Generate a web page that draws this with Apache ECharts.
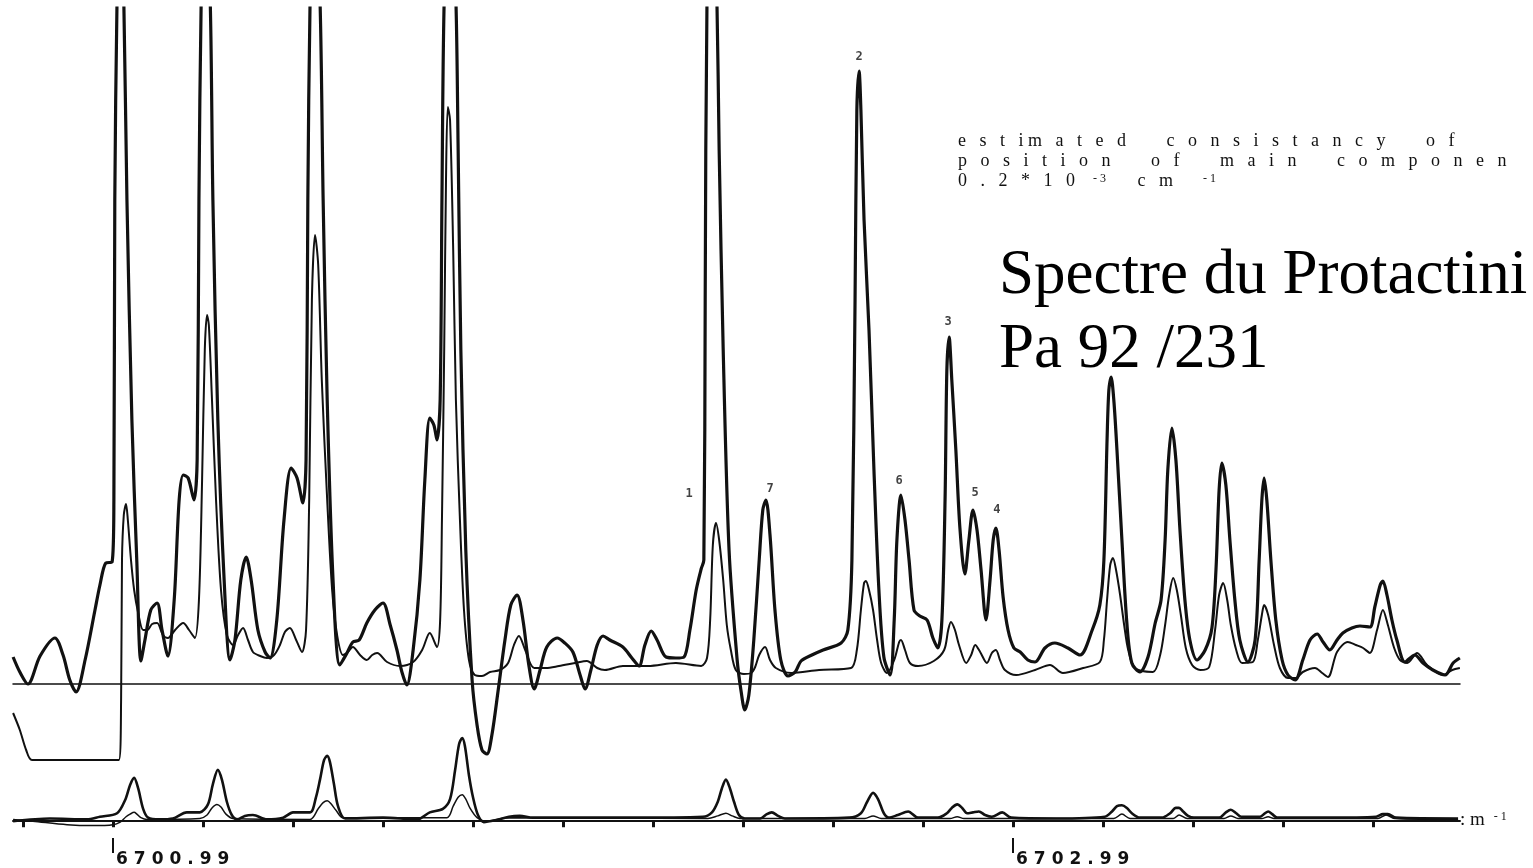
<!DOCTYPE html>
<html>
<head>
<meta charset="utf-8">
<title>Spectre du Protactinium</title>
<script src="https://cdn.jsdelivr.net/npm/echarts@6/dist/echarts.min.js"></script>
<style>
  html, body { margin: 0; padding: 0; background: #fff; }
  #chart { width: 1533px; height: 868px; }
</style>
</head>
<body>
<div id="chart"></div>
<script>
// x = offset in cm-1 from 6700.99, y = trace height above its own baseline
var baseWavenumber = 6700.99;
var xMin = -0.2222, xMax = 2.9933;

var thickTop = [[-0.222,27],[-0.207,12],[-0.189,0],[-0.162,28],[-0.129,46],[-0.111,29],[-0.096,4],[-0.082,-8],[-0.062,24],[-0.040,74],[-0.029,99],[-0.016,121],[-0.002,122],[0.002,184],[0.004,484],[0.009,684],[0.016,804],[0.024,684],[0.031,484],[0.042,264],[0.053,122],[0.062,23],[0.071,44],[0.084,74],[0.098,81],[0.109,54],[0.122,28],[0.136,84],[0.147,184],[0.156,209],[0.167,206],[0.180,184],[0.187,224],[0.191,484],[0.196,684],[0.204,804],[0.216,684],[0.222,484],[0.233,264],[0.247,104],[0.260,24],[0.271,44],[0.284,104],[0.296,127],[0.307,104],[0.322,54],[0.338,32],[0.349,26],[0.364,64],[0.380,164],[0.396,216],[0.409,206],[0.422,181],[0.429,224],[0.433,484],[0.438,684],[0.447,804],[0.460,684],[0.467,484],[0.476,284],[0.489,104],[0.504,19],[0.520,31],[0.533,42],[0.547,44],[0.564,61],[0.582,74],[0.600,81],[0.616,59],[0.631,34],[0.642,12],[0.653,-1],[0.667,34],[0.682,104],[0.693,204],[0.704,266],[0.713,259],[0.720,244],[0.727,284],[0.731,484],[0.736,684],[0.749,824],[0.762,684],[0.767,534],[0.773,334],[0.784,134],[0.798,4],[0.809,-41],[0.820,-66],[0.831,-70],[0.842,-51],[0.856,-6],[0.871,44],[0.884,79],[0.898,89],[0.911,64],[0.924,19],[0.936,-5],[0.949,14],[0.964,37],[0.987,46],[1.004,41],[1.022,32],[1.038,9],[1.049,-5],[1.062,14],[1.076,39],[1.089,48],[1.104,44],[1.133,37],[1.153,26],[1.169,18],[1.182,39],[1.196,53],[1.209,44],[1.229,27],[1.251,26],[1.269,27],[1.282,54],[1.296,94],[1.307,115],[1.313,124],[1.316,384],[1.320,684],[1.331,834],[1.342,684],[1.347,534],[1.356,334],[1.369,134],[1.387,24],[1.396,-8],[1.404,-26],[1.413,-11],[1.424,44],[1.436,124],[1.444,174],[1.451,184],[1.460,149],[1.471,74],[1.484,24],[1.500,8],[1.516,12],[1.529,23],[1.553,29],[1.578,34],[1.618,41],[1.633,54],[1.642,124],[1.649,384],[1.653,574],[1.658,613],[1.662,574],[1.669,464],[1.680,354],[1.691,214],[1.702,94],[1.713,27],[1.727,9],[1.736,64],[1.742,144],[1.751,189],[1.760,164],[1.769,124],[1.780,74],[1.793,68],[1.809,64],[1.822,46],[1.833,36],[1.842,64],[1.849,184],[1.853,314],[1.858,347],[1.864,304],[1.873,234],[1.882,156],[1.893,110],[1.902,144],[1.911,174],[1.920,154],[1.929,114],[1.940,64],[1.949,104],[1.956,144],[1.962,156],[1.969,134],[1.978,87],[1.989,54],[2.002,36],[2.016,32],[2.033,24],[2.049,22],[2.071,36],[2.093,41],[2.122,36],[2.149,29],[2.176,54],[2.193,79],[2.202,124],[2.209,244],[2.213,294],[2.218,307],[2.224,284],[2.231,234],[2.242,144],[2.253,61],[2.264,21],[2.282,12],[2.300,27],[2.316,61],[2.329,84],[2.338,144],[2.344,214],[2.353,256],[2.362,224],[2.371,154],[2.382,84],[2.393,44],[2.409,24],[2.427,34],[2.442,56],[2.451,114],[2.458,194],[2.464,221],[2.473,199],[2.482,144],[2.493,84],[2.504,44],[2.522,22],[2.538,44],[2.547,124],[2.553,184],[2.558,206],[2.564,184],[2.573,124],[2.584,64],[2.598,24],[2.611,9],[2.627,4],[2.644,24],[2.660,44],[2.676,50],[2.689,42],[2.704,34],[2.720,44],[2.733,51],[2.753,56],[2.771,58],[2.793,57],[2.804,77],[2.816,99],[2.822,103],[2.831,89],[2.842,64],[2.853,44],[2.871,22],[2.893,29],[2.911,21],[2.933,14],[2.960,9],[2.978,21],[2.993,26]];

var thinTop = [[-0.222,-29],[-0.207,-46],[-0.193,-66],[-0.180,-76],[0.013,-76],[0.018,-16],[0.020,124],[0.024,169],[0.029,180],[0.033,164],[0.040,124],[0.047,94],[0.056,71],[0.067,54],[0.076,54],[0.087,60],[0.098,61],[0.111,49],[0.122,46],[0.138,54],[0.156,61],[0.169,54],[0.182,46],[0.191,84],[0.198,204],[0.204,334],[0.209,369],[0.213,359],[0.220,284],[0.229,184],[0.240,94],[0.253,49],[0.267,39],[0.278,49],[0.289,56],[0.300,44],[0.311,32],[0.327,28],[0.342,26],[0.358,29],[0.371,39],[0.382,52],[0.393,56],[0.407,44],[0.420,32],[0.429,54],[0.436,184],[0.442,384],[0.449,449],[0.456,419],[0.464,304],[0.476,184],[0.487,94],[0.498,49],[0.511,29],[0.522,32],[0.533,37],[0.549,29],[0.564,24],[0.576,29],[0.587,31],[0.609,22],[0.638,18],[0.667,22],[0.687,34],[0.704,51],[0.720,37],[0.727,64],[0.731,164],[0.736,334],[0.740,504],[0.744,577],[0.749,564],[0.756,434],[0.762,284],[0.771,164],[0.780,74],[0.791,24],[0.804,9],[0.820,8],[0.838,12],[0.860,14],[0.878,21],[0.891,39],[0.902,48],[0.916,34],[0.936,16],[0.962,16],[0.991,18],[1.027,21],[1.053,23],[1.076,16],[1.093,14],[1.133,18],[1.189,18],[1.251,21],[1.307,18],[1.320,26],[1.327,64],[1.333,139],[1.340,161],[1.347,144],[1.356,104],[1.364,59],[1.373,34],[1.384,14],[1.402,10],[1.418,11],[1.427,17],[1.436,29],[1.449,37],[1.460,24],[1.473,16],[1.507,11],[1.569,14],[1.640,16],[1.653,34],[1.662,74],[1.669,101],[1.673,103],[1.680,94],[1.689,74],[1.698,44],[1.707,21],[1.720,11],[1.736,24],[1.747,42],[1.751,44],[1.760,34],[1.771,21],[1.789,18],[1.824,23],[1.847,34],[1.856,54],[1.862,62],[1.871,54],[1.880,39],[1.896,21],[1.907,29],[1.916,39],[1.927,32],[1.942,21],[1.953,31],[1.962,34],[1.971,24],[1.982,14],[2.007,9],[2.049,14],[2.082,19],[2.111,11],[2.156,16],[2.193,22],[2.202,44],[2.209,84],[2.216,119],[2.222,126],[2.229,114],[2.238,89],[2.247,59],[2.256,34],[2.271,16],[2.311,12],[2.327,29],[2.338,59],[2.347,89],[2.356,106],[2.364,94],[2.373,69],[2.384,36],[2.398,19],[2.416,14],[2.436,17],[2.449,54],[2.458,89],[2.467,101],[2.476,84],[2.484,59],[2.496,34],[2.509,21],[2.533,22],[2.544,44],[2.553,69],[2.558,79],[2.567,69],[2.580,39],[2.593,16],[2.611,6],[2.629,6],[2.644,12],[2.671,16],[2.687,11],[2.700,7],[2.720,32],[2.744,42],[2.762,39],[2.778,36],[2.793,31],[2.809,54],[2.822,74],[2.833,59],[2.847,36],[2.860,24],[2.876,21],[2.898,31],[2.920,19],[2.956,9],[2.976,14],[2.993,16]];

var thickLow = [[-0.222,-1],[-0.140,2],[-0.058,1],[-0.029,4],[0.009,8],[0.027,23],[0.038,40],[0.047,48],[0.056,36],[0.067,13],[0.078,3],[0.104,1],[0.133,2],[0.164,9],[0.193,9],[0.211,18],[0.222,41],[0.233,57],[0.242,46],[0.253,21],[0.264,6],[0.276,1],[0.293,5],[0.311,6],[0.342,1],[0.378,3],[0.400,9],[0.438,9],[0.451,26],[0.460,46],[0.469,68],[0.476,73],[0.482,66],[0.491,41],[0.500,16],[0.516,2],[0.600,3],[0.676,1],[0.704,9],[0.733,13],[0.749,24],[0.760,56],[0.769,86],[0.776,93],[0.782,84],[0.791,51],[0.800,26],[0.811,6],[0.824,-2],[0.849,0],[0.880,4],[0.904,5],[0.933,3],[1.149,3],[1.311,4],[1.331,9],[1.344,21],[1.353,36],[1.362,46],[1.371,36],[1.380,21],[1.391,6],[1.404,2],[1.438,2],[1.453,7],[1.464,9],[1.478,5],[1.493,2],[1.636,3],[1.662,8],[1.676,21],[1.689,31],[1.700,24],[1.713,8],[1.724,3],[1.744,6],[1.767,10],[1.789,3],[1.833,3],[1.853,8],[1.864,14],[1.876,18],[1.887,14],[1.898,8],[1.911,9],[1.924,10],[1.938,6],[1.953,4],[1.976,9],[1.996,3],[2.096,2],[2.204,4],[2.220,10],[2.231,16],[2.242,17],[2.253,14],[2.264,8],[2.282,3],[2.331,3],[2.349,8],[2.362,14],[2.369,14],[2.378,10],[2.389,5],[2.402,3],[2.458,3],[2.473,9],[2.484,12],[2.496,8],[2.507,4],[2.549,4],[2.560,8],[2.567,10],[2.576,7],[2.587,3],[2.698,3],[2.807,4],[2.822,7],[2.833,7],[2.851,3],[2.989,2]];

var thinLow = [[-0.222,1],[-0.178,-1],[-0.102,-5],[-0.044,-6],[0.000,-5],[0.016,-2],[0.029,4],[0.038,7],[0.047,9],[0.053,7],[0.062,3],[0.076,1],[0.193,2],[0.209,6],[0.220,14],[0.231,18],[0.240,15],[0.251,7],[0.267,2],[0.438,1],[0.456,13],[0.467,20],[0.476,22],[0.484,19],[0.496,11],[0.511,3],[0.742,3],[0.756,16],[0.767,26],[0.776,29],[0.784,24],[0.793,14],[0.809,3],[0.831,-1],[0.876,3],[1.322,2],[1.344,5],[1.362,8],[1.376,5],[1.393,2],[1.671,2],[1.689,5],[1.707,2],[1.860,2],[1.876,4],[1.891,2],[2.224,2],[2.242,7],[2.260,2],[2.356,2],[2.369,6],[2.387,2],[2.469,2],[2.484,5],[2.500,2],[2.553,2],[2.567,4],[2.580,2],[2.811,2],[2.829,6],[2.849,2],[2.989,1]];

// hand-written peak numbers: [label, x, y]
var peakTags = [['2',1.658,627],['3',1.856,362],['6',1.747,203],['5',1.916,191],['4',1.964,174],['1',1.280,190],['7',1.460,195]];

var tickValues = [-0.2,0,0.2,0.4,0.6,0.8,1.0,1.2,1.4,1.6,1.8,2.0,2.2,2.4,2.6,2.8];
var labelTicks = [0,2];
var labelTexts = ['6700.99','6702.99'];

var chart = echarts.init(document.getElementById('chart'));

function tickLabel(v){
	var i = labelTicks.indexOf(Math.round(v*100)/100);
	var s = i >= 0 ? labelTexts[i] : (baseWavenumber+v).toFixed(2);
	return s.split('').map(function(c){ return '{d|'+c+'}'; }).join('');
}

function lineSeries(data, xi, width, z){
	return {
		type:'line', xAxisIndex:xi, yAxisIndex:xi, data:data,
		symbol:'none', smooth:0.3, clip:true, z:z,
		lineStyle:{color:'#111', width:width}
	};
}

var serif = '"Liberation Serif"';

var option = {
	backgroundColor:'#fff',
	animation:false,
	grid:[
		{left:13, right:73, top:8, bottom:104},
		{left:13, right:73, top:700, bottom:12}
	],
	xAxis:[
		{gridIndex:0, type:'value', min:xMin, max:xMax,
			axisLine:{show:true, onZero:true, lineStyle:{color:'#111', width:1.5}},
			axisTick:{show:false}, axisLabel:{show:false}, splitLine:{show:false}},
		{gridIndex:1, type:'value', min:xMin, max:xMax, position:'bottom',
			axisLine:{show:true, onZero:true, lineStyle:{color:'#111', width:2}},
			axisTick:{show:true, customValues:tickValues, length:7, lineStyle:{color:'#111', width:3}},
			axisLabel:{show:false}, splitLine:{show:false},
			name:'{n|: m}{s|   - 1}', nameLocation:'end', nameGap:0,
			nameTextStyle:{rich:{
				n:{fontFamily:'Liberation Serif', fontSize:19, color:'#111'},
				s:{fontFamily:'Liberation Serif', fontSize:12, color:'#111', padding:[0,0,6,0]}
			}}},
		{gridIndex:1, type:'value', min:xMin, max:xMax, position:'bottom',
			axisLine:{show:false, onZero:true},
			axisTick:{show:true, customValues:labelTicks, length:15, lineStyle:{color:'#111', width:2}},
			axisLabel:{show:true, customValues:labelTicks, formatter:tickLabel, align:'left', margin:13,
				rich:{d:{fontFamily:'DejaVu Sans', fontWeight:'bold', fontSize:17, color:'#111', padding:[0,3,0,3]}}},
			splitLine:{show:false}}
	],
	yAxis:[
		{gridIndex:0, type:'value', min:-80, max:676, show:false},
		{gridIndex:1, type:'value', min:-20, max:136, show:false}
	],
	series:[
		lineSeries(thinTop, 0, 2, 2),
		lineSeries(thickTop, 0, 3.2, 3),
		lineSeries(thinLow, 1, 1.5, 2),
		lineSeries(thickLow, 1, 2.6, 3),
		{type:'scatter', xAxisIndex:0, yAxisIndex:0, symbolSize:1, z:4,
			itemStyle:{color:'rgba(0,0,0,0)'},
			data:peakTags.map(function(t){ return {name:t[0], value:[t[1], t[2]]}; }),
			label:{show:true, position:'inside', formatter:'{b}', color:'#111',
				fontFamily:'DejaVu Sans Mono', fontWeight:'bold', fontSize:12}}
	],
	graphic:[
		{type:'text', x:958, y:141, style:{fill:'#111', font:'18px ' + serif, verticalAlign:'middle',
			text:'e   s   t   i m   a   t   e   d         c   o   n   s   i   s   t   a   n   c   y         o   f'}},
		{type:'text', x:958, y:161, style:{fill:'#111', font:'18px ' + serif, verticalAlign:'middle',
			text:'p   o   s   i   t   i   o   n         o   f         m   a   i   n         c   o   m   p   o   n   e   n'}},
		{type:'text', x:958, y:181, style:{fill:'#111', verticalAlign:'middle',
			text:'{n|0   .   2   *   1   0}{s|      - 3}{n|       c   m}{s|          - 1}',
			rich:{
				n:{fontFamily:'Liberation Serif', fontSize:18, color:'#111'},
				s:{fontFamily:'Liberation Serif', fontSize:12, color:'#111', padding:[0,0,5,0]}
			}}},
		{type:'text', x:999, y:276, style:{fill:'#000', font:'63px ' + serif, verticalAlign:'middle',
			text:'Spectre du Protactini'}},
		{type:'text', x:999, y:350, style:{fill:'#000', font:'63px ' + serif, verticalAlign:'middle',
			text:'Pa 92 /231'}}
	]
};

chart.setOption(option);
</script>
</body>
</html>
